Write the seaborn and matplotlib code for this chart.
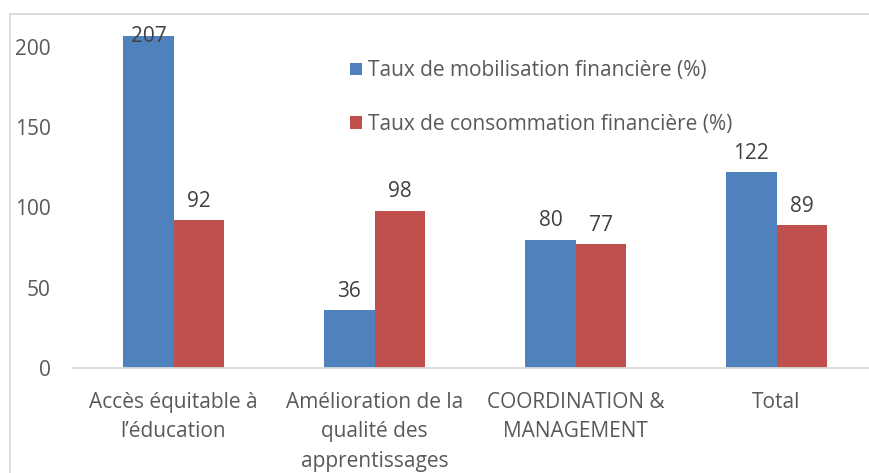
import pandas as pd
import seaborn as sns
from matplotlib import pyplot as plt
from matplotlib.patches import Rectangle

categories = ["Accès équitable à\nl’éducation",
              "Amélioration de la\nqualité des\napprentissages",
              "COORDINATION &\nMANAGEMENT",
              "Total"]
mobilisation = [207, 36, 80, 122]
consommation = [92, 98, 77, 89]
series = ["Taux de mobilisation financière (%)",
          "Taux de consommation financière (%)"]

df = pd.DataFrame({
    "cat": categories * 2,
    "val": mobilisation + consommation,
    "serie": [series[0]] * 4 + [series[1]] * 4,
})

sns.set_style("white")
plt.rcParams["font.family"] = ["Open Sans", "DejaVu Sans"]

W, H = 869, 473
fig = plt.figure(figsize=(W / 100, H / 100), dpi=100)
# chart frame
fig.patches.append(Rectangle((10 / W, -0.1), 1.2, (H - 14) / H + 0.1,
                             transform=fig.transFigure, fill=False,
                             edgecolor="#D9D9D9", linewidth=1.3))
ax = fig.add_axes([73 / W, (H - 368) / H, (W - 73) / W, (368 - 14) / H])

sns.barplot(data=df, x="cat", y="val", hue="serie", ax=ax,
            palette=["#4F81BD", "#C0504D"], width=0.5, gap=0,
            saturation=1, edgecolor="none")

for c in ax.containers:
    labels = ax.bar_label(c, fmt="%d", padding=6, fontsize=15, color="#404040")
    for t in labels:
        if t.get_text() == "207":
            # label sits on the top of the tallest bar, as in the original
            t.xyann = (0, -8)

ax.set_ylim(0, 220.5)
ax.set_xlim(-0.5, 3.46)
ax.set_yticks([0, 50, 100, 150, 200])
ax.set_xlabel("")
ax.set_ylabel("")
for s in ["top", "right", "left"]:
    ax.spines[s].set_visible(False)
ax.spines["bottom"].set_color("#D9D9D9")
ax.spines["bottom"].set_linewidth(1.3)
ax.tick_params(axis="both", length=0, labelsize=15, labelcolor="#595959")
ax.tick_params(axis="y", pad=16)
ax.tick_params(axis="x", pad=17)
for t in ax.get_xticklabels():
    t.set_linespacing(1.55)
    t.set_verticalalignment("top")

ax.legend(loc="upper left", bbox_to_anchor=(340 / W, 1 - 50 / H),
          bbox_transform=fig.transFigure, frameon=False, fontsize=15,
          labelcolor="#595959", handlelength=0.55, handleheight=0.55,
          handletextpad=0.3, labelspacing=1.55, borderpad=0)

fig.savefig("out.png", dpi=100)
